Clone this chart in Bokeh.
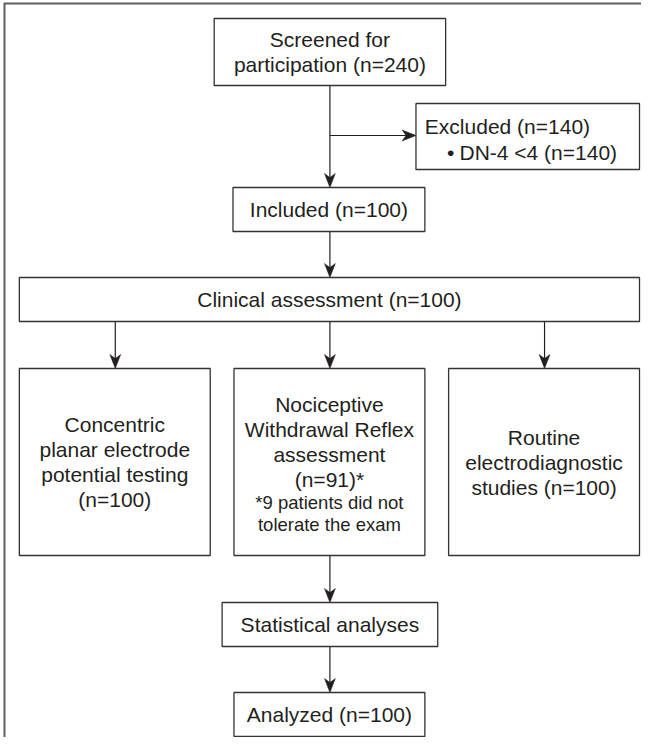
from bokeh.plotting import figure
from bokeh.models import Range1d
from bokeh.core.properties import value
from bokeh.embed import file_html
from bokeh.resources import INLINE

# ---- chart content (texts of the flow diagram) ----
screened_lines = ["Screened for", "participation (n=240)"]
excluded_title = "Excluded (n=140)"
excluded_items = ["DN-4 <4 (n=140)"]
included_label = "Included (n=100)"
clinical_label = "Clinical assessment (n=100)"
cpep_lines = ["Concentric", "planar electrode", "potential testing", "(n=100)"]
nwr_lines = ["Nociceptive", "Withdrawal Reflex", "assessment", "(n=91)*"]
nwr_note = ["*9 patients did not", "tolerate the exam"]
routine_lines = ["Routine", "electrodiagnostic", "studies (n=100)"]
stats_label = "Statistical analyses"
analyzed_label = "Analyzed (n=100)"

# ---- layout (page-pixel coordinates of the reference) ----
boxes = {
    "screened": (224, 458, 26, 93),
    "excluded": (428, 654, 111, 177),
    "included": (243, 437, 195, 239),
    "clinical": (27, 654, 285, 329),
    "cpep": (27, 220, 376, 563),
    "nwr": (244, 437, 376, 563),
    "routine": (461, 654, 376, 563),
    "stats": (232, 450, 610, 654),
    "analyzed": (244, 437, 700, 744),
}
CX = 341
# vertical arrows: (x, y_start, y_tip)
v_arrows = [(CX, 93, 195), (CX, 239, 285), (124, 329, 376), (CX, 329, 376),
            (558, 329, 376), (CX, 563, 610), (CX, 654, 700)]
# horizontal arrows: (y, x_start, x_tip)
h_arrows = [(143, CX, 428)]

TXT = "#231f20"
LINE = "#231f20"
FONT = value("Liberation Sans")
MAIN = "21px"
SMALL = "18.5px"

p = figure(width=641, height=737, x_range=Range1d(7.956, 656.02),
           y_range=Range1d(745, 8), output_backend="svg",
           toolbar_location=None, min_border=0)
p.axis.visible = False
p.grid.visible = False
p.outline_line_color = None
p.background_fill_color = "white"
p.border_fill_color = "white"

# outer frame (extends beyond the visible page at right and bottom)
p.line([12, 12, 720], [800, 11, 11], line_color="#5f5f5f", line_width=2,
       line_join="miter")

# arrow shafts
p.segment([a[0] for a in v_arrows], [a[1] for a in v_arrows],
          [a[0] for a in v_arrows], [a[2] - 6 for a in v_arrows],
          line_color=LINE, line_width=1.2)
p.segment([a[1] for a in h_arrows], [a[0] for a in h_arrows],
          [a[2] - 6 for a in h_arrows], [a[0] for a in h_arrows],
          line_color=LINE, line_width=1.2)

# arrow heads (notched)
HL, HW, HN = 14, 5.5, 10
xs, ys = [], []
for x, y0, yt in v_arrows:
    xs.append([x, x - HW, x, x + HW])
    ys.append([yt, yt - HL, yt - HN, yt - HL])
for y, x0, xt in h_arrows:
    xs.append([xt, xt - HL, xt - HN, xt - HL])
    ys.append([y, y - HW, y, y + HW])
p.patches(xs, ys, fill_color=LINE, line_color=LINE, line_width=0.5)

# boxes
names = list(boxes)
p.quad(left=[boxes[n][0] for n in names], right=[boxes[n][1] for n in names],
       top=[boxes[n][2] for n in names], bottom=[boxes[n][3] for n in names],
       fill_color="white", line_color="#333333", line_width=1.3)


def center_x(n):
    return (boxes[n][0] + boxes[n][1]) / 2


def center_y(n):
    return (boxes[n][2] + boxes[n][3]) / 2


def put(x, y, t, size=MAIN, align="center"):
    p.text([x], [y], [t], text_font=FONT, text_font_size=size,
           text_align=align, text_baseline="middle", text_color=TXT)


def stack(n, lines, spacing=25):
    cy = center_y(n)
    k = len(lines)
    for i, t in enumerate(lines):
        put(center_x(n), cy + (i - (k - 1) / 2) * spacing, t)


stack("screened", screened_lines, 25)
put(437, 134, excluded_title, align="left")
for i, t in enumerate(excluded_items):
    put(463, 160 + 25 * i, "\u2022", align="center")
    put(472, 160 + 25 * i, t, align="left")
put(center_x("included"), center_y("included"), included_label)
put(center_x("clinical"), center_y("clinical"), clinical_label)
stack("cpep", cpep_lines, 25)
stack("routine", routine_lines, 25)
for i, t in enumerate(nwr_lines):
    put(center_x("nwr"), 412 + 25 * i, t)
for i, t in enumerate(nwr_note):
    put(center_x("nwr"), 510 + 22 * i, t, size=SMALL)
put(center_x("stats"), center_y("stats"), stats_label)
put(center_x("analyzed"), center_y("analyzed"), analyzed_label)

open("out.html", "w").write(file_html(p, INLINE))
